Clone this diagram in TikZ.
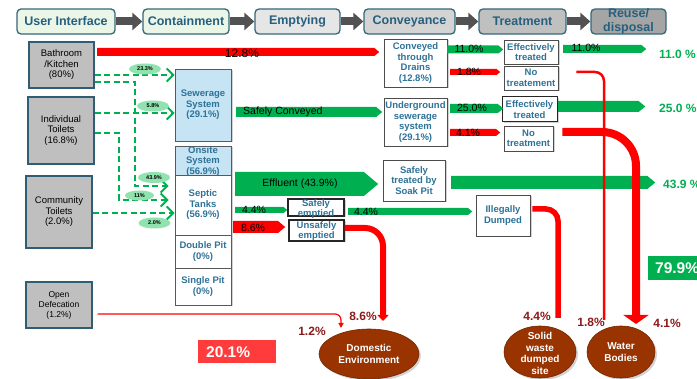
\documentclass[tikz,border=0pt]{standalone}
\usepackage{fontspec}
\setmainfont{Liberation Sans}
\usetikzlibrary{shapes.geometric,shapes.symbols,arrows.meta,shadows}

\definecolor{hdrline}{RGB}{52,104,122}
\definecolor{hdrtext}{RGB}{38,96,126}
\definecolor{hdrgreen}{RGB}{235,246,230}
\definecolor{hdrgA}{RGB}{230,230,230}
\definecolor{hdrgB}{RGB}{212,212,212}
\definecolor{hdrgC}{RGB}{192,192,192}
\definecolor{hdrgD}{RGB}{165,165,165}
\definecolor{arrgray}{RGB}{82,82,82}
\definecolor{boxgray}{RGB}{191,191,191}
\definecolor{boxline}{RGB}{47,93,116}
\definecolor{lblue}{RGB}{198,228,244}
\definecolor{tealtext}{RGB}{45,115,152}
\definecolor{flowgreen}{RGB}{0,176,80}
\definecolor{flowred}{RGB}{255,0,0}
\definecolor{darkred}{RGB}{140,26,26}
\definecolor{soilbrown}{RGB}{153,51,0}
\definecolor{mint}{RGB}{144,226,174}
\definecolor{totalred}{RGB}{255,59,59}

\begin{document}
\begin{tikzpicture}[x=1pt,y=-1pt,
  hdr/.style={draw=hdrline, line width=1.3pt, rounded corners=4pt, minimum height=25pt, inner sep=0pt},
  hdrtxt/.style={text=hdrtext, font=\bfseries\fontsize{12.5}{14}\selectfont, align=center, inner sep=0pt},
  hdrarr/.style={draw=arrgray, line width=8pt, -{Triangle[length=10pt 0, width=17pt 0]}},
  usrbox/.style={draw=boxline, line width=1.4pt, fill=boxgray, align=center, inner sep=1pt,
    font=\fontsize{9.5}{10.5}\selectfont},
  colbox/.style={draw=black!65, line width=0.8pt, fill=white, align=center, inner sep=1pt,
    text=tealtext, font=\bfseries\fontsize{9.5}{10.5}\selectfont, minimum width=56pt,
    drop shadow={shadow xshift=2pt, shadow yshift=-1.5pt, opacity=0.35}},
  wbox/.style={draw=black!70, line width=0.8pt, fill=white, align=center, inner sep=0.5pt,
    text=tealtext, font=\bfseries\fontsize{9.5}{10.5}\selectfont,
    drop shadow={shadow xshift=1.5pt, shadow yshift=-1.5pt, opacity=0.35}},
  boxtxt/.style={text=tealtext, font=\bfseries\fontsize{9.5}{10.5}\selectfont, align=center, inner sep=0pt},
  flowbar/.style={signal, signal to=east, signal pointer angle=80, inner sep=0pt, draw=none, anchor=west},
  gbar/.style={flowbar, fill=flowgreen},
  rbar/.style={flowbar, fill=flowred},
  bartxt/.style={text=black, font=\fontsize{10.5}{11}\selectfont, inner sep=0pt},
  dasharr/.style={draw=flowgreen, line width=2pt, dash pattern=on 6pt off 3.5pt,
    -{Straight Barb[length=6.5pt, width=13pt]}},
  pct/.style={ellipse, fill=mint, minimum width=32pt, minimum height=11pt, inner sep=0pt,
    font=\bfseries\fontsize{5.5}{6}\selectfont},
  sink/.style={ellipse, fill=soilbrown, draw=soilbrown!75!black, line width=0.6pt, inner sep=0pt,
    drop shadow={shadow xshift=2pt, shadow yshift=-2pt, opacity=0.35}},
  sinktxt/.style={text=white, font=\bfseries\fontsize{10}{11.5}\selectfont, align=center, inner sep=0pt},
  dlab/.style={text=darkred, font=\bfseries\fontsize{12}{12}\selectfont, inner sep=0pt},
  gval/.style={text=flowgreen, font=\bfseries\fontsize{12}{12}\selectfont, anchor=west, inner sep=0pt},
  total/.style={text=white, font=\bfseries\fontsize{15.5}{16}\selectfont, anchor=west, inner sep=0pt}
]
\useasboundingbox (0,0) rectangle (697,379);
\fill[white] (0,0) rectangle (697,379);

% ---------- chain of stages ----------
\node[hdr, fill=hdrgreen, minimum width=98pt] (ui)    at (66,21.5)    {};
\node[hdr, fill=hdrgreen, minimum width=86pt] (cont)  at (186,21.5)   {};
\node[hdr, fill=hdrgA,    minimum width=85pt] (emp)   at (297.5,21.5) {};
\node[hdr, fill=hdrgB,    minimum width=91pt] (conv)  at (409.5,21.5) {};
\node[hdr, fill=hdrgC,    minimum width=87pt] (treat) at (522.5,21.5) {};
\node[hdr, fill=hdrgD,    minimum width=75pt] (reuse) at (628.5,21.5) {};
\node[hdrtxt] at (ui)    {User Interface};
\node[hdrtxt] at (cont)  {Containment};
\node[hdrtxt] at (emp)   {Emptying};
\node[hdrtxt] at (conv)  {Conveyance};
\node[hdrtxt] at (treat) {Treatment};
\node[hdrtxt] at (reuse) {Reuse/\\disposal};
\draw[hdrarr] (ui.east)    -- (cont.west);
\draw[hdrarr] (cont.east)  -- (emp.west);
\draw[hdrarr] (emp.east)   -- (conv.west);
\draw[hdrarr] (conv.east)  -- (treat.west);
\draw[hdrarr] (treat.east) -- (reuse.west);

% ---------- user interfaces ----------
\node[usrbox, minimum width=65pt, minimum height=46pt] (bath)  at (61.5,65)  {Bathroom\\/Kitchen\\(80\%)};
\node[usrbox, minimum width=66pt, minimum height=67pt] (indiv) at (61,130.5) {Individual\\Toilets\\(16.8\%)};
\node[usrbox, minimum width=66pt, minimum height=72pt] (comm)  at (59,212)   {Community\\Toilets\\(2.0\%)};
\node[usrbox, minimum width=66pt, minimum height=46pt, font=\fontsize{8.5}{10}\selectfont] (od) at (59,305) {Open\\Defecation\\(1.2\%)};

% ---------- containment column ----------
\node[colbox, fill=lblue, minimum height=72pt] (sew) at (203,105) {Sewerage\\System\\(29.1\%)};
\node[colbox, fill=lblue, minimum height=29pt] (onsite) at (203,160.5) {};
\node[boxtxt] at (203,161.5) {Onsite\\System\\(56.9\%)};
\node[colbox, minimum height=60pt] (septic) at (203,205)   {Septic\\Tanks\\(56.9\%)};
\node[colbox, minimum height=33pt] (dpit)   at (203,251.5) {Double Pit\\(0\%)};
\node[colbox, minimum height=37pt] (spit)   at (203,286.5) {Single Pit\\(0\%)};

% ---------- dashed links into containment ----------
\draw[dasharr] (bath.east |- 0,75) -- (sew.west |- 0,75);
\draw[dasharr] (bath.east |- 0,82) -| (135,186) -- ([xshift=-6pt]septic.west |- 0,186);
\draw[dasharr] (indiv.east |- 0,113) -- (sew.west |- 0,113);
\draw[dasharr] (indiv.east |- 0,133) -| (119,200) -- ([xshift=-6pt]septic.west |- 0,200);
\draw[dasharr] (comm.east |- 0,213) -- (septic.west |- 0,213);
\node[pct] (p1) at (145,69)    {23.3\%};
\node[pct] (p2) at (153,106)   {5.8\%};
\node[pct] (p3) at (154,177.5) {43.9\%};
\node[pct, minimum width=29pt, minimum height=10pt] (p4) at (139.5,195.5) {11\%};
\node[pct] (p5) at (154.5,223) {2.0\%};

% ---------- conveyance / treatment boxes ----------
\node[wbox, minimum width=63pt, minimum height=48pt] (conv1) at (415.5,63)  {Conveyed\\through\\Drains\\(12.8\%)};
\node[wbox, minimum width=63pt, minimum height=48pt] (conv2) at (415.5,122) {Underground\\sewerage\\system\\(29.1\%)};
\node[wbox, minimum width=62pt, minimum height=41pt] (soak)  at (414,180.5) {Safely\\treated by\\Soak Pit};
\node[wbox, minimum width=54pt, minimum height=24pt] (eff1)  at (531,52)    {Effectively\\treated};
\node[wbox, minimum width=54pt, minimum height=24pt] (no1)   at (531,78)    {No\\treatement};
\node[wbox, minimum width=55pt, minimum height=25pt, draw=black!85, line width=1pt] (eff2) at (529.5,109.5) {Effectively\\treated};
\node[wbox, minimum width=49pt, minimum height=25pt] (no2)   at (528.5,138.5) {No\\treatment};
\node[wbox, minimum width=56pt, minimum height=17pt, draw=black!85, line width=1.1pt] (safe) at (316,207.5) {};
\node[boxtxt] at (316,209) {Safely\\emptied};
\node[wbox, minimum width=55pt, minimum height=21pt, draw=black!85, line width=1.1pt] (unsafe) at (316.5,230.5) {};
\node[boxtxt] at (316.5,231) {Unsafely\\emptied};
\node[wbox, minimum width=54pt, minimum height=41pt] (illeg) at (503,215.5) {Illegally\\Dumped};

% ---------- flow bars ----------
\node[rbar, minimum width=282pt, minimum height=8pt]  (f1)  at (97,52)    {};
\node[bartxt, font=\fontsize{12}{12}\selectfont] at (242,53) {12.8\%};
\node[gbar, minimum width=56pt,  minimum height=8pt]  (f2)  at (447,49.5) {};
\node[bartxt] at (469,49) {11.0\%};
\node[rbar, minimum width=50pt,  minimum height=6pt]  (f3)  at (450,72)   {};
\node[bartxt] at (469,72) {1.8\%};
\node[gbar, minimum width=83pt,  minimum height=8pt]  (f4)  at (563,49)   {};
\node[bartxt] at (586,48) {11.0\%};
\node[gbar, minimum width=146pt, minimum height=10pt] (f5)  at (236,112)  {};
\node[bartxt, anchor=west] at (243,112) {Safely Conveyed};
\node[gbar, minimum width=53pt,  minimum height=9pt]  (f6)  at (450,108.5) {};
\node[bartxt] at (472,108) {25.0\%};
\node[rbar, minimum width=50pt,  minimum height=7pt]  (f7)  at (450,132.5) {};
\node[bartxt] at (468,133) {4.1\%};
\node[gbar, minimum width=87pt,  minimum height=11pt] (f8)  at (558,106.5) {};
\node[gbar, minimum width=143pt, minimum height=24pt] (f9)  at (235,184)  {};
\node[bartxt] at (300,184) {Effluent (43.9\%)};
\node[gbar, minimum width=204pt, minimum height=13pt] (f10) at (451,182.5) {};
\node[gbar, minimum width=52pt,  minimum height=6pt]  (f11) at (235,210)  {};
\node[bartxt] at (254,210) {4.4\%};
\node[rbar, minimum width=52pt,  minimum height=12pt] (f12) at (233,227)  {};
\node[bartxt] at (253,228) {8.6\%};
\node[gbar, minimum width=124pt, minimum height=7pt]  (f13) at (348,211.5) {};
\node[bartxt] at (366,212) {4.4\%};

% ---------- end points ----------
\node[sink, minimum width=100pt, minimum height=50pt] (dom)   at (369,354) {};
\node[sinktxt] at (dom) {Domestic\\Environment};
\node[sink, minimum width=72pt, minimum height=52pt]  (solid) at (540,352) {};
\node[sinktxt] at ([yshift=-1.5pt]solid.center) {Solid\\waste\\dumped\\site};
\node[sink, minimum width=68pt, minimum height=52pt]  (water) at (621,352) {};
\node[sinktxt] at (water) {Water\\Bodies};

\coordinate (wbA)  at (604,320);
\coordinate (wbB)  at (636,324);
\coordinate (swA)  at (558,318);
\coordinate (deA)  at (383,321);
\coordinate (deB)  at (341,328);

% ---------- untreated flows ----------
\draw[flowred, line width=2.5pt, rounded corners=9pt] ([xshift=18pt,yshift=6pt]no1.east) -| (wbA);
\draw[flowred, line width=8pt, rounded corners=34pt, -{Triangle[length=9pt 0, width=25pt 0]}]
  ([xshift=9pt,yshift=6.5pt]no2.east) -| (wbB);
\draw[flowred, line width=5.5pt, rounded corners=12pt] ([xshift=2pt,yshift=6.5pt]illeg.east) -| (swA);
\draw[flowred, line width=6pt, rounded corners=18pt, -{Triangle[length=6pt 0, width=11pt 0]}]
  (unsafe.east |- 0,228) -| (deA);
\draw[flowred, line width=1.2pt, rounded corners=6pt, -{Triangle[length=5pt 0, width=5pt 0]}]
  ([xshift=5pt,yshift=-9pt]od.east) -| (deB);

% ---------- figures ----------
\node[dlab] at (363,316) {8.6\%};
\node[dlab] at (312,331) {1.2\%};
\node[dlab] at (537,316) {4.4\%};
\node[dlab] at (591,322) {1.8\%};
\node[dlab] at (667,323) {4.1\%};
\node[gval] at (659,54)  {11.0 \%};
\node[gval] at (659,108) {25.0 \%};
\node[gval] at (663,184) {43.9 \%};

\node[fill=totalred, minimum width=78pt, minimum height=23pt, inner sep=0pt] (lost) at (237,351.5) {};
\node[total] at (206,352) {20.1\%};
\node[fill=flowgreen, minimum width=52pt, minimum height=24pt, inner sep=0pt, anchor=west] (safeall) at (648,268) {};
\node[total] at (655,268) {79.9\%};
\end{tikzpicture}
\end{document}
